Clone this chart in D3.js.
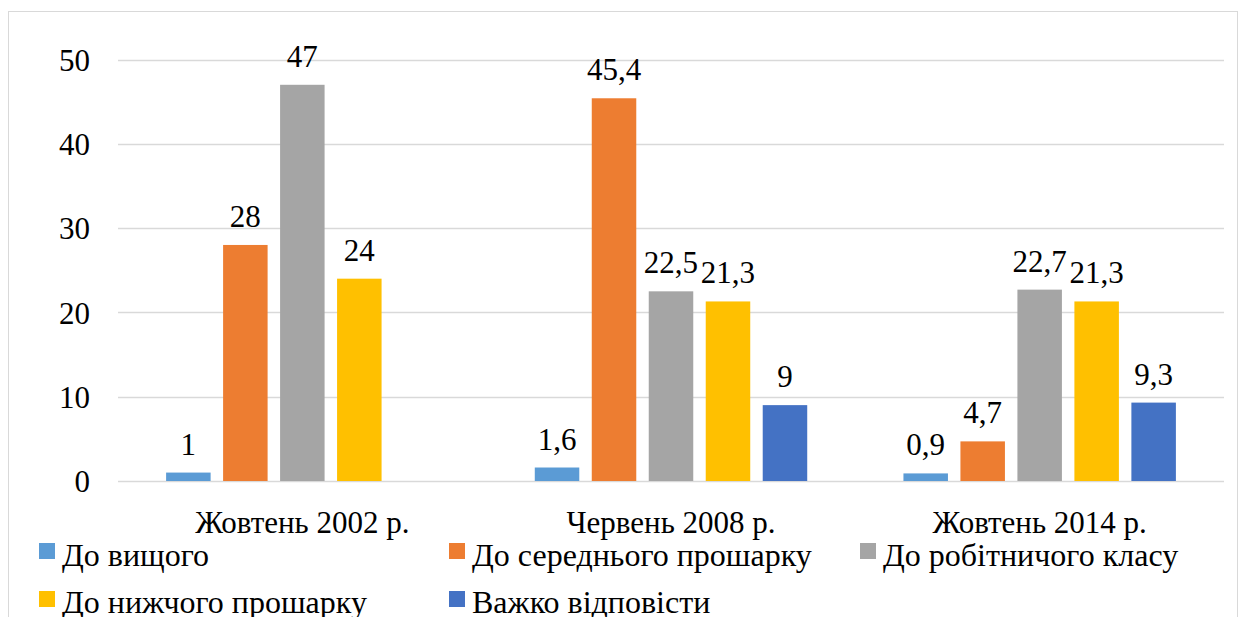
<!DOCTYPE html>
<html>
<head>
<meta charset="utf-8">
<script src="https://cdn.jsdelivr.net/npm/d3@7"></script>
</head>
<body style="margin:0">
<svg id="chart" width="1240" height="617"></svg>
<script>
const categories = ["Жовтень 2002 р.", "Червень 2008 р.", "Жовтень 2014 р."];
const seriesNames = ["До вищого", "До середнього прошарку", "До робітничого класу", "До нижчого прошарку", "Важко відповісти"];
const seriesColors = ["#5B9BD5", "#ED7D31", "#A5A5A5", "#FFC000", "#4472C4"];
// values per series, one per category (null = no bar)
const vyshchyi = [1, 1.6, 0.9];
const serednii = [28, 45.4, 4.7];
const robitnychyi = [47, 22.5, 22.7];
const nyzhchyi = [24, 21.3, 21.3];
const vazhko = [null, 9, 9.3];
const yTicks = [0, 10, 20, 30, 40, 50];

const seriesValues = [vyshchyi, serednii, robitnychyi, nyzhchyi, vazhko];

const FONT = "'Liberation Serif', 'Times New Roman', serif";
const FS = 31;

const plot = { left: 118, right: 1224, top: 59.5, bottom: 481 };

const svg = d3.select("#chart");

// every text gets its font inline
function serif(sel, size) {
    return sel.style("font-family", FONT).attr("font-size", size || FS).attr("fill", "#000");
}

// outer frame
svg.append("rect")
    .attr("x", 8.5).attr("y", 11.5)
    .attr("width", 1229).attr("height", 700)
    .attr("fill", "none").attr("stroke", "#d9d9d9").attr("stroke-width", 1);

const yScale = d3.scaleLinear().domain([0, 50]).range([plot.bottom, plot.top]);

const x0 = d3.scaleBand()
    .domain(categories)
    .range([plot.left, plot.right])
    .paddingInner(0.261)
    .paddingOuter(0.1305);

const x1 = d3.scaleBand()
    .domain(d3.range(seriesNames.length))
    .range([0, x0.bandwidth()])
    .paddingInner(0.219);

// gridlines
svg.append("g")
    .selectAll("line")
    .data(yTicks)
    .enter().append("line")
    .attr("x1", plot.left).attr("x2", plot.right)
    .attr("y1", d => Math.round(yScale(d)) + 0.5)
    .attr("y2", d => Math.round(yScale(d)) + 0.5)
    .attr("stroke", "#d9d9d9").attr("stroke-width", 1.5);

// y axis labels
const yAxis = svg.append("g")
    .attr("transform", "translate(90,0)")
    .call(d3.axisLeft(yScale).tickValues(yTicks).tickSize(0).tickPadding(0));
yAxis.attr("font-family", null).attr("font-size", null);
yAxis.select(".domain").remove();
serif(yAxis.selectAll("text")).attr("dy", "0.35em");

// bars
const fmt = v => String(v).replace(".", ",");

const groups = svg.append("g")
    .selectAll("g")
    .data(categories)
    .enter().append("g")
    .attr("transform", d => "translate(" + x0(d) + ",0)");

const cells = groups.selectAll("g")
    .data((c, ci) => seriesValues.map((vals, si) => ({ si: si, v: vals[ci] })).filter(d => d.v != null))
    .enter().append("g");

cells.append("rect")
    .attr("x", d => x1(d.si))
    .attr("width", x1.bandwidth())
    .attr("y", d => yScale(d.v))
    .attr("height", d => yScale(0) - yScale(d.v))
    .attr("fill", d => seriesColors[d.si]);

serif(cells.append("text"))
    .attr("x", d => x1(d.si) + x1.bandwidth() / 2)
    .attr("y", d => yScale(d.v) - 18)
    .attr("text-anchor", "middle")
    .text(d => fmt(d.v));

// category labels
const xAxis = svg.append("g")
    .attr("transform", "translate(0,533)")
    .call(d3.axisBottom(x0).tickSize(0).tickPadding(0));
xAxis.attr("font-family", null).attr("font-size", null);
xAxis.select(".domain").remove();
serif(xAxis.selectAll("text")).attr("dy", 0).attr("y", 0);

// legend (second row is cut by the bottom edge, as in the source)
const legendPos = [
    { x: 39, y: 543, ty: 566 }, { x: 449, y: 543, ty: 566 }, { x: 860, y: 543, ty: 566 },
    { x: 39, y: 591, ty: 613 }, { x: 449, y: 591, ty: 613 }
];
const legend = svg.append("g")
    .selectAll("g")
    .data(seriesNames)
    .enter().append("g")
    .attr("transform", (d, i) => "translate(" + legendPos[i].x + ",0)");

legend.append("rect")
    .attr("y", (d, i) => legendPos[i].y)
    .attr("width", 16).attr("height", 16)
    .attr("fill", (d, i) => seriesColors[i]);

serif(legend.append("text"), 32)
    .attr("x", 23)
    .attr("y", (d, i) => legendPos[i].ty)
    .text(d => d);
</script>
</body>
</html>
